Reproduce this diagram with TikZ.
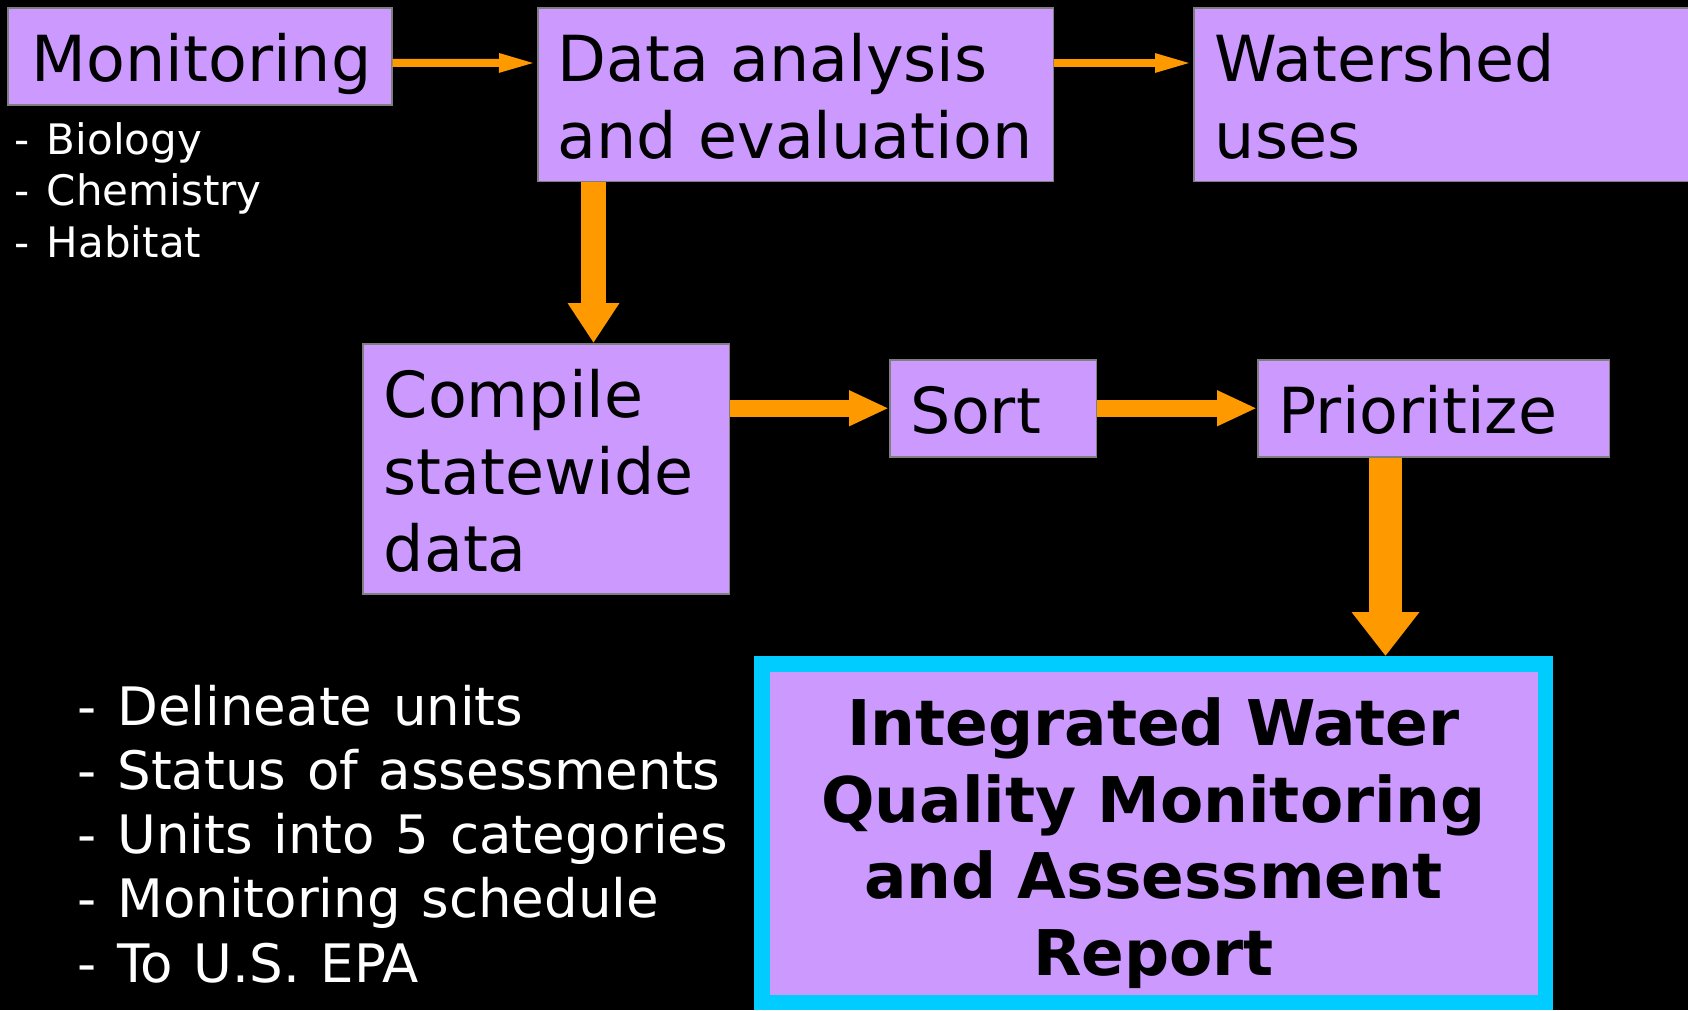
\documentclass[tikz,border=0pt]{standalone}
\usepackage{fontspec}
\setmainfont{DejaVu Sans}
\usetikzlibrary{arrows.meta}

\definecolor{boxpurple}{HTML}{CC99FF}
\definecolor{boxedge}{HTML}{7F7F7F}
\definecolor{arroworange}{HTML}{FF9900}
\definecolor{reportcyan}{HTML}{00CCFF}

\begin{document}
\begin{tikzpicture}[ % one unit = one pixel of the slide, y grows downwards
x=1pt, y=-1pt,
purple_box/.style={rectangle, draw=boxedge, fill=boxpurple, line width=1.5pt, anchor=north west, inner xsep=21pt, inner ysep=0pt, align=left, font=\fontsize{63.5}{76.7}\selectfont, execute at begin node={\rule{0pt}{74pt}}, execute at end node={\rule[-23pt]{0pt}{0pt}}},
report_box/.style={rectangle, draw=reportcyan, fill=boxpurple, line width=15.5pt, anchor=north west, inner sep=0pt, text width=783.5pt, align=center, font=\fontsize{63}{76.5}\selectfont\bfseries, execute at begin node={\rule{0pt}{81.75pt}}, execute at end node={\rule[-27.25pt]{0pt}{0pt}}},
side_list/.style={text=white, anchor=north west, inner sep=0pt, align=left},
thin_arrow/.style={draw=arroworange, line width=8pt, arrows={-Triangle[length=38pt, width=17pt]}},
mid_arrow/.style={draw=arroworange, line width=17pt, arrows={-Triangle[length=40pt, width=33pt]}},
wide_arrow/.style={draw=arroworange, line width=25pt, arrows={-Triangle[length=40pt, width=49pt]}},
big_arrow/.style={draw=arroworange, line width=33pt, arrows={-Triangle[length=44pt, width=65pt]}}
]

\useasboundingbox (0,0) rectangle (1688,1010);
\fill[black] (0,0) rectangle (1688,1010);

% \node[style, text width=...](name) at (top left corner) {text};
\node[purple_box, inner xsep=24pt, text width=336pt](monitoring) at (7,7) {Monitoring};
\node[purple_box, inner xsep=20pt, text width=475.5pt](data_eval) at (537,7) {Data analysis\\and evaluation};
\node[purple_box, text width=463.5pt](watershed) at (1193,7) {Watershed\\uses};

\node[purple_box, text width=324.5pt](compile) at (362,343) {Compile\\statewide\\data};
\node[purple_box, text width=164.5pt](sort_box) at (889,359) {Sort};
\node[purple_box, text width=309.5pt](prioritize) at (1257,359) {Prioritize};

\node[report_box](report) at (754,656) {Integrated Water\\Quality Monitoring\\and Assessment\\Report};

% white lists
\node[side_list, text width=300pt, font=\fontsize{42}{51.4}\selectfont, execute at begin node={\spaceskip=0.42em\relax\rule{0pt}{40pt}}](monitor_list) at (14,114) {- Biology\\- Chemistry\\- Habitat};
\node[side_list, text width=670pt, font=\fontsize{53}{64.2}\selectfont, execute at begin node={\spaceskip=0.39em\relax\rule{0pt}{50pt}}](unit_list) at (77.5,675) {- Delineate units\\- Status of assessments\\- Units into 5 categories\\- Monitoring schedule\\- To U.S. EPA};

% \draw[arrow_style](name.anchor) -- (name.anchor)
\draw[thin_arrow]([yshift=-6.5pt]monitoring.east) -- ([yshift=-56pt]data_eval.north west);
\draw[thin_arrow]([yshift=-56pt]data_eval.north east) -- ([yshift=-56pt]watershed.north west);

\draw[wide_arrow]([xshift=56.5pt]data_eval.south west) -- ([xshift=231.5pt]compile.north west);

\draw[mid_arrow](compile.east |- sort_box.west) -- (sort_box.west);
\draw[mid_arrow](sort_box.east) -- (prioritize.west);

\draw[big_arrow]([xshift=128.5pt]prioritize.south west) -- ([xshift=631.5pt]report.north west);
\end{tikzpicture}
\end{document}
